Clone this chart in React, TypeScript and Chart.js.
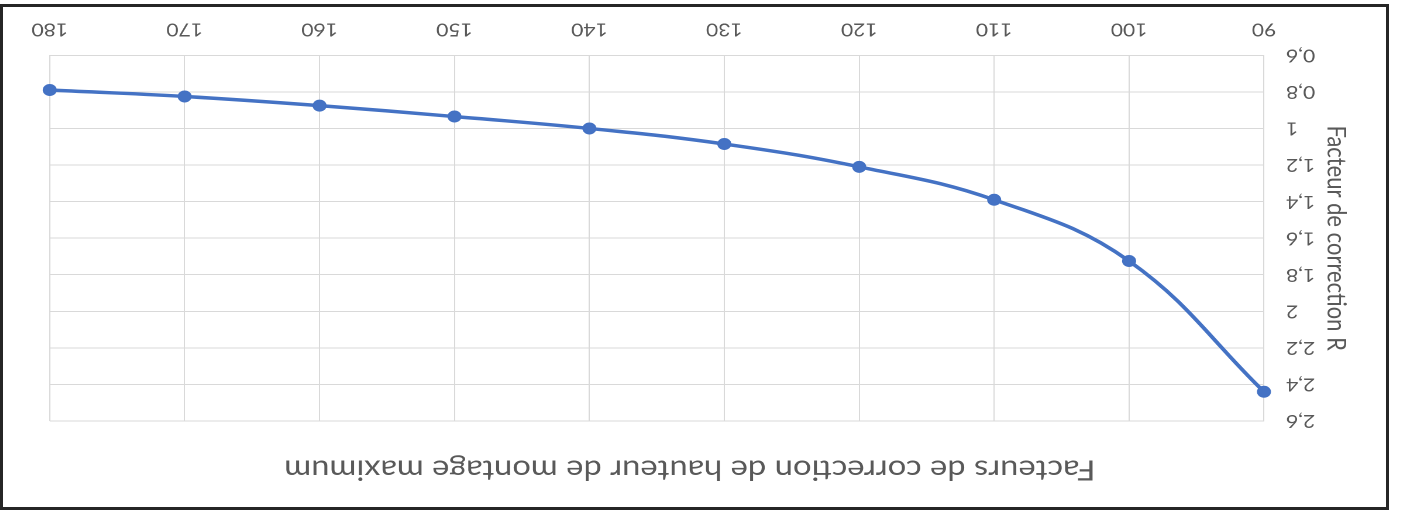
import React, { useEffect, useRef } from "react";
import { Chart, registerables } from "chart.js";

Chart.register(...registerables);

// ---- data ----
const angles = [90, 100, 110, 120, 130, 140, 150, 160, 170, 180];
const factorR = [2.44, 1.725, 1.39, 1.21, 1.085, 1.0, 0.935, 0.875, 0.825, 0.79];
const xTickValues = [90, 100, 110, 120, 130, 140, 150, 160, 170, 180];
const yTickValues = [0.6, 0.8, 1.0, 1.2, 1.4, 1.6, 1.8, 2.0, 2.2, 2.4, 2.6];
const chartTitle = "Facteurs de correction de hauteur de montage maximum";
const yAxisTitle = "Facteur de correction R";

// ---- presentation ----
const STRETCH = 1.17; // horizontal stretch of the reference picture
const INNER_W = 1383;
const INNER_H = 500;
const CW = INNER_W / STRETCH;
const FONT = "Lato, 'Noto Sans', sans-serif";
const TEXT = "#595959";
const GRID = "#d9d9d9";
const BLUE = "#4472C4";

const PAD_R = 46.7 / STRETCH;
const PAD_L = 47.9;
const Y_W = 122 / STRETCH - PAD_L;
const Y_TITLE_FS = 22;

const fmt = (v: number) => {
  const r = Math.round(v * 10) / 10;
  return String(r).replace(".", ",");
};

export default function App() {
  const ref = useRef<HTMLCanvasElement | null>(null);

  useEffect(() => {
    if (!ref.current) return;
    const chart = new Chart(ref.current, {
      type: "line",
      data: {
        datasets: [
          {
            label: yAxisTitle,
            data: angles.map((a, i) => ({ x: a, y: factorR[i] })),
            borderColor: BLUE,
            backgroundColor: BLUE,
            borderWidth: 3.5,
            pointRadius: 5.5,
            pointBorderWidth: 1,
            pointBackgroundColor: BLUE,
            pointBorderColor: BLUE,
            tension: 0.4,
            fill: false,
            clip: false,
          },
        ],
      },
      options: {
        animation: false,
        responsive: true,
        maintainAspectRatio: false,
        devicePixelRatio: 2,
        layout: { padding: { left: PAD_L, right: PAD_R, top: 0, bottom: 0 } },
        plugins: {
          legend: { display: false },
          tooltip: { enabled: false },
          title: {
            display: true,
            text: chartTitle,
            color: TEXT,
            font: { family: FONT, size: 28, weight: "normal", lineHeight: 1.2 },
            padding: { top: 20.7, bottom: 31.7 },
          },
        },
        scales: {
          x: {
            type: "linear",
            min: 90,
            max: 180,
            afterBuildTicks: (s: any) => {
              s.ticks = xTickValues.map((v) => ({ value: v }));
            },
            afterFit: (s: any) => {
              s.height = 48.3;
            },
            grid: { color: GRID, lineWidth: 1, drawTicks: false },
            border: { display: true, color: GRID, width: 1 },
            ticks: {
              color: TEXT,
              font: { family: FONT, size: 18, lineHeight: 1.2 },
              padding: 15,
              maxRotation: 0,
              callback: (v: any) => String(v),
            },
          },
          y: {
            type: "linear",
            min: 0.6,
            max: 2.6,
            afterBuildTicks: (s: any) => {
              s.ticks = yTickValues.map((v) => ({ value: v }));
            },
            afterFit: (s: any) => {
              s.width = Y_W;
            },
            grid: { color: GRID, lineWidth: 1, drawTicks: false },
            border: { display: true, color: GRID, width: 1 },
            ticks: {
              color: TEXT,
              font: { family: FONT, size: 18, lineHeight: 1.2 },
              padding: 22 / STRETCH,
              callback: (v: any) => fmt(Number(v)),
            },
            title: {
              display: true,
              text: yAxisTitle,
              color: TEXT,
              font: { family: FONT, size: Y_TITLE_FS, lineHeight: 1.2 },
              padding: { top: 50 / STRETCH - (Y_TITLE_FS * 1.2) / 2 - PAD_L, bottom: 0 },
            },
          },
        },
      },
    } as any);
    return () => chart.destroy();
  }, []);

  return (
    <div
      style={{
        position: "fixed",
        left: 0,
        top: 0,
        width: 1404,
        height: 512,
        background: "#fff",
        transform: "rotate(180deg)",
        transformOrigin: "50% 50%",
        overflow: "hidden",
      }}
    >
      <div
        style={{
          position: "absolute",
          left: 15,
          top: 2,
          width: 1389,
          height: 506,
          boxSizing: "border-box",
          border: "3px solid #262626",
          background: "#fff",
        }}
      >
        <div
          style={{
            position: "absolute",
            left: 0,
            top: 0,
            width: CW,
            height: INNER_H,
            transform: `scaleX(${STRETCH})`,
            transformOrigin: "0 0",
          }}
        >
          <canvas ref={ref} />
        </div>
      </div>
    </div>
  );
}
